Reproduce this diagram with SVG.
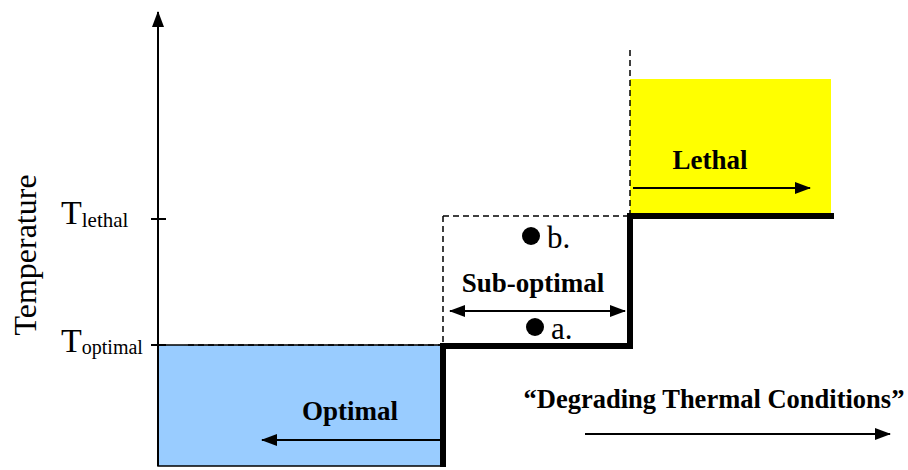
<svg xmlns="http://www.w3.org/2000/svg" width="908" height="470" viewBox="0 0 908 470">
<style>
.serif{font-family:"Liberation Serif","Times New Roman",serif;fill:#000}
.bold{font-weight:bold}
.dash{stroke:#000;stroke-width:1.5;stroke-dasharray:6,4;fill:none}
.thin{stroke:#000;stroke-width:2;fill:none}
</style>
<defs>
<marker id="ahs" markerWidth="16" markerHeight="12" refX="15" refY="6" orient="auto-start-reverse" markerUnits="userSpaceOnUse" viewBox="0 0 16 12">
<path d="M0,0 L16,6 L0,12 Z" fill="#000"/>
</marker>
</defs>
<g id="optimal">
<rect x="158" y="345" width="285" height="121" fill="#99CCFF" stroke="#000" stroke-width="1.5"/>
<text class="serif bold" x="350" y="420" font-size="27" text-anchor="middle">Optimal</text>
</g>
<g id="lethal">
<rect x="630" y="79" width="201" height="136" fill="#FFFF00"/>
<text class="serif bold" x="710" y="169" font-size="27" text-anchor="middle">Lethal</text>
</g>
<g id="suboptimal">
<text class="serif bold" x="533" y="292" font-size="27" text-anchor="middle">Sub-optimal</text>
</g>
<g id="point-b">
<circle cx="531" cy="236" r="9" fill="#000"/>
<text class="serif" x="547" y="248" font-size="31">b.</text>
</g>
<g id="point-a">
<circle cx="535" cy="327" r="9" fill="#000"/>
<text class="serif" x="551" y="339" font-size="31">a.</text>
</g>
<g id="axis">
<line x1="158" y1="466" x2="158" y2="12" class="thin" marker-end="url(#ahs)"/>
<line x1="151" y1="219" x2="166" y2="219" class="thin"/>
<line x1="151" y1="345" x2="166" y2="345" class="thin"/>
<text class="serif" x="61" y="224" font-size="34">T<tspan font-size="21" dy="3">lethal</tspan></text>
<text class="serif" x="61" y="352" font-size="34">T<tspan font-size="20" dy="2">optimal</tspan></text>
<text class="serif" font-size="32" text-anchor="middle" transform="translate(36,255) rotate(-90)">Temperature</text>
</g>
<g id="degrading">
<text class="serif bold" x="714" y="408" font-size="26.5" text-anchor="middle">“Degrading Thermal Conditions”</text>
</g>
<g id="connectors">
<line x1="188" y1="345" x2="443" y2="345" class="dash"/>
<line x1="443" y1="216" x2="630" y2="216" class="dash"/>
<line x1="443" y1="216" x2="443" y2="346" class="dash"/>
<line x1="630" y1="50" x2="630" y2="216" class="dash"/>
<polyline points="443,467 443,346 630,346 630,216 834,216" fill="none" stroke="#000" stroke-width="6"/>
<line x1="633" y1="188" x2="810" y2="188" class="thin" marker-end="url(#ahs)"/>
<line x1="450" y1="311" x2="625" y2="311" class="thin" marker-start="url(#ahs)" marker-end="url(#ahs)"/>
<line x1="441" y1="440" x2="262" y2="440" class="thin" marker-end="url(#ahs)"/>
<line x1="585" y1="434" x2="890" y2="434" class="thin" marker-end="url(#ahs)"/>
</g>
</svg>
